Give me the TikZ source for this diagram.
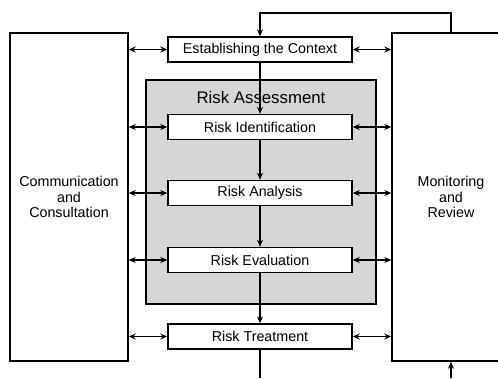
\documentclass[tikz,border=0pt]{standalone}
\usepackage{fontspec}
\setmainfont{Liberation Sans}
\usetikzlibrary{arrows.meta}
\definecolor{shade}{HTML}{D6D6D6}
\begin{document}
\begin{tikzpicture}[x=1pt,y=-1pt,
  line width=1.4pt,
  tip/.style={-{Stealth[length=7pt,width=6pt]}},
  dtip/.style={{Stealth[length=7pt,width=6pt]}-{Stealth[length=7pt,width=6pt]}},
  stepbox/.style={draw, fill=white, minimum width=184pt, minimum height=25pt, inner sep=0pt, font=\fontsize{14.3}{16}\selectfont},
  sidebox/.style={draw, fill=white, minimum width=118pt, minimum height=328pt, inner sep=0pt, align=center, font=\fontsize{14.3}{15.5}\selectfont}]
\useasboundingbox (0,0) rectangle (498,378);
\fill[white] (0,0) rectangle (498,378);
\node[draw, fill=shade, minimum width=230pt, minimum height=224pt, inner sep=0pt] (ra) at (261,192) {};
\node[sidebox] (left) at (69,197) {Communication\\and\\Consultation};
\node[sidebox] (right) at (451,197) {Monitoring\\and\\Review};
\coordinate (top) at (451,13);
\coordinate (bot) at (451,378);
\coordinate (bot2) at (260,378);
\node[stepbox] (est) at (260,49.5) {Establishing the Context};
\node[stepbox] (rid) at (260,127) {Risk Identification};
\node[stepbox] (ran) at (260,193) {Risk Analysis};
\node[stepbox] (rev) at (260,260) {Risk Evaluation};
\node[stepbox] (rtr) at (260,336.5) {Risk Treatment};
\draw[tip] (est.south) -- (rid.north);
\node[font=\fontsize{16.8}{18}\selectfont] (ratitle) at (261,97) {Risk Assessment};
\draw[tip] (rid.south) -- (ran.north);
\draw[tip] (ran.south) -- (rev.north);
\draw[tip] (rev.south) -- (rtr.north);
\draw (rtr.south) -- (bot2);
\draw[tip] (right.north) -- (top) -| (est.north);
\draw[tip] (bot) -- (right.south);
\foreach \n in {est,rid,ran,rev,rtr}{
  \draw[dtip] (\n.west -| left.east) -- (\n.west);
  \draw[dtip] (\n.east) -- (\n.east -| right.west);
}
\end{tikzpicture}
\end{document}
